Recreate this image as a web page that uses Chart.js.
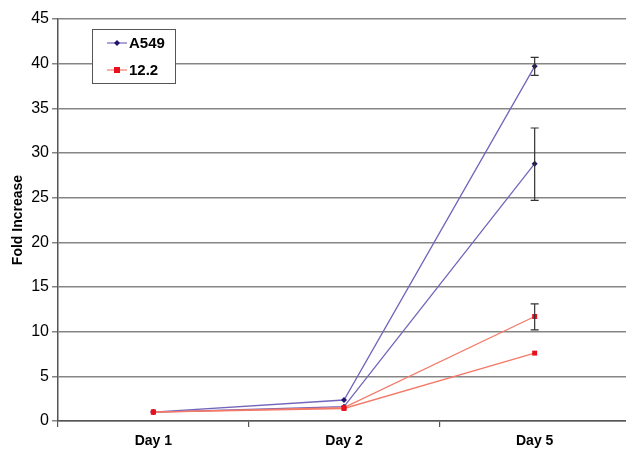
<!DOCTYPE html>
<html>
<head>
<meta charset="utf-8">
<script src="https://cdn.jsdelivr.net/npm/chart.js@4/dist/chart.umd.min.js"></script>
<style>
  html, body { margin: 0; padding: 0; background: #fff; overflow: hidden; }
  #wrap { width: 634px; height: 452px; }
</style>
</head>
<body>
<div id="wrap"><canvas id="chart"></canvas></div>
<script>
// data
var days = ['Day 1', 'Day 2', 'Day 5'];
var a549_1 = [1, 2.35, 39.7];
var a549_2 = [1, 1.6, 28.8];
var c122_1 = [1, 1.5, 11.7];
var c122_2 = [1, 1.4, 7.6];
// error bar half-ranges (lower, upper) at each day, null = none
var a549_1_err = [null, null, [1.0, 1.0]];
var a549_2_err = [null, null, [4.1, 4.0]];
var c122_1_err = [null, null, [1.5, 1.4]];
var c122_2_err = [null, null, null];
var yTicks = [0, 5, 10, 15, 20, 25, 30, 35, 40, 45];

var purpleLine = '#7266bb';
var purpleDot = '#23136e';
var redLine = '#f47a68';
var redDot = '#e8101c';

var errorBars = {
  id: 'errorBars',
  afterDatasetsDraw: function(chart) {
    var ctx = chart.ctx;
    var y = chart.scales.y;
    ctx.save();
    ctx.strokeStyle = '#333';
    ctx.lineWidth = 1.2;
    chart.data.datasets.forEach(function(ds, i) {
      if (!ds.errors) return;
      var meta = chart.getDatasetMeta(i);
      ds.errors.forEach(function(e, j) {
        if (!e) return;
        var x = meta.data[j].x;
        var lo = y.getPixelForValue(ds.data[j] - e[0]);
        var hi = y.getPixelForValue(ds.data[j] + e[1]);
        ctx.beginPath();
        ctx.moveTo(x, lo); ctx.lineTo(x, hi);
        ctx.moveTo(x - 4, lo); ctx.lineTo(x + 4, lo);
        ctx.moveTo(x - 4, hi); ctx.lineTo(x + 4, hi);
        ctx.stroke();
      });
    });
    ctx.restore();
  }
};

var legendBox = {
  id: 'legendBox',
  afterDraw: function(chart) {
    var ctx = chart.ctx;
    ctx.save();
    ctx.fillStyle = '#fff';
    ctx.fillRect(92, 29, 84, 55);
    ctx.strokeStyle = '#555';
    ctx.lineWidth = 1;
    ctx.strokeRect(92.5, 29.5, 83, 54);
    var items = [
      { label: 'A549', line: purpleLine, dot: purpleDot, y: 43, square: false },
      { label: '12.2', line: redLine, dot: redDot, y: 70, square: true }
    ];
    items.forEach(function(it) {
      ctx.strokeStyle = it.line;
      ctx.lineWidth = 1.2;
      ctx.beginPath();
      ctx.moveTo(107, it.y); ctx.lineTo(127, it.y);
      ctx.stroke();
      ctx.fillStyle = it.dot;
      if (it.square) {
        ctx.fillRect(114, it.y - 3, 6, 6);
      } else {
        ctx.beginPath();
        ctx.moveTo(117, it.y - 3); ctx.lineTo(120, it.y);
        ctx.lineTo(117, it.y + 3); ctx.lineTo(114, it.y);
        ctx.closePath(); ctx.fill();
      }
      ctx.fillStyle = '#000';
      ctx.font = 'bold 15px "Liberation Sans", Arial, sans-serif';
      ctx.textBaseline = 'middle';
      ctx.fillText(it.label, 129, it.y + 1);
    });
    ctx.restore();
  }
};

function line(data, errs, color, dot, style, radius, order) {
  return {
    data: data,
    errors: errs,
    order: order,
    borderColor: color,
    borderWidth: 1.3,
    pointBackgroundColor: dot,
    pointBorderColor: dot,
    pointBorderWidth: 0,
    pointStyle: style,
    pointRadius: radius,
    tension: 0,
    fill: false
  };
}

new Chart(document.getElementById('chart'), {
  type: 'line',
  data: {
    labels: days,
    datasets: [
      line(a549_1, a549_1_err, purpleLine, purpleDot, 'rectRot', 3, 2),
      line(a549_2, a549_2_err, purpleLine, purpleDot, 'rectRot', 3, 2),
      line(c122_1, c122_1_err, redLine, redDot, 'rect', 3.5, 1),
      line(c122_2, c122_2_err, redLine, redDot, 'rect', 3.5, 1)
    ]
  },
  options: {
    responsive: true,
    maintainAspectRatio: false,
    animation: false,
    layout: { padding: { top: 19, right: 0, left: 0, bottom: 0 } },
    plugins: { legend: { display: false }, tooltip: { enabled: false } },
    scales: {
      x: {
        offset: true,
        grid: { offset: true, drawOnChartArea: false, drawTicks: true, tickLength: 6, color: '#555', lineWidth: 1.2 },
        border: { display: true, color: '#555', width: 1.5 },
        ticks: { color: '#000', padding: 6, font: { family: '"Liberation Sans", Arial, sans-serif', size: 14, weight: 'bold' } },
        afterFit: function(s) { s.height = 31; }
      },
      y: {
        min: 0, max: 45,
        afterBuildTicks: function(s) { s.ticks = yTicks.map(function(v) { return { value: v }; }); },
        grid: { color: '#858585', lineWidth: 1.5, drawTicks: true, tickLength: 6 },
        border: { display: true, color: '#555', width: 1.5 },
        ticks: { color: '#000', padding: 3, font: { family: '"Liberation Sans", Arial, sans-serif', size: 16 } },
        title: { display: true, text: 'Fold Increase', color: '#000', padding: { top: 10, bottom: 2 }, font: { family: '"Liberation Sans", Arial, sans-serif', size: 14, weight: 'bold' } },
        afterFit: function(s) { s.width = 58; }
      }
    }
  },
  plugins: [errorBars, legendBox]
});
</script>
</body>
</html>
